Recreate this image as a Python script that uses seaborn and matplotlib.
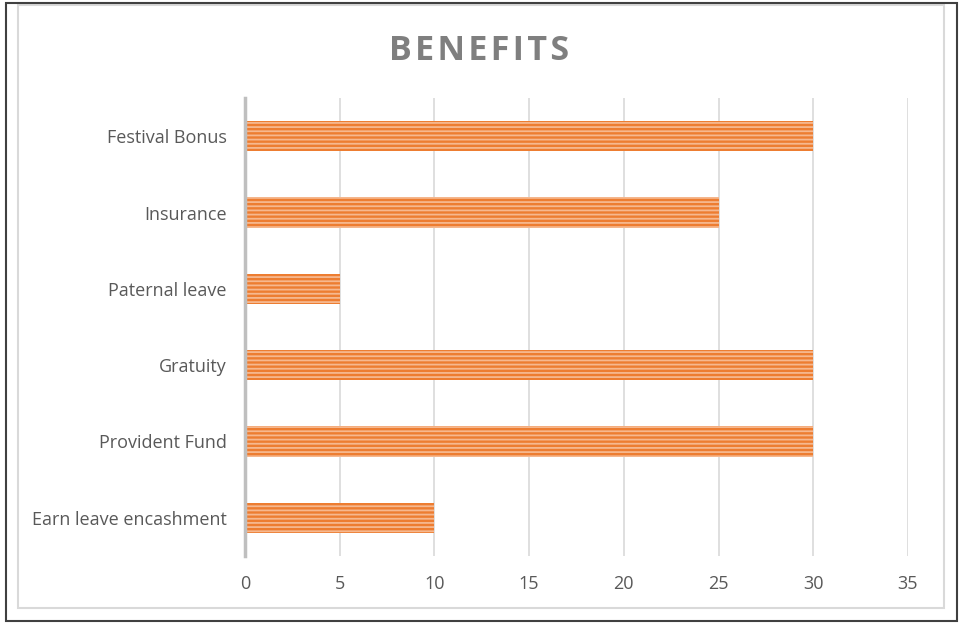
import matplotlib
matplotlib.use("Agg")
import matplotlib.pyplot as plt
import seaborn as sns
import pandas as pd
from matplotlib.patches import Rectangle

categories = ["Festival Bonus", "Insurance", "Paternal leave", "Gratuity",
              "Provident Fund", "Earn leave encashment"]
values = [30, 25, 5, 30, 30, 10]
x_ticks = [0, 5, 10, 15, 20, 25, 30, 35]

df = pd.DataFrame({"benefit": categories, "value": values})

sns.set_theme(style="white")
plt.rcParams['font.family'] = ['Open Sans', 'DejaVu Sans']
plt.rcParams['hatch.linewidth'] = 1.3

fig = plt.figure(figsize=(9.6, 6.23), dpi=100)
ax = fig.add_axes([245/960, 1-556/623, (908-245)/960, (556-98)/623])

sns.barplot(data=df, x="value", y="benefit", order=categories, ax=ax,
            color="#ED7D31", width=0.4, saturation=1, edgecolor="#F8CBAD",
            linewidth=0, hatch="----")
for p in ax.patches:
    p.set_hatch("----")
    p.set_edgecolor("#F6B88F")
    p.set_linewidth(0)

ax.set_xlim(0, 35)
ax.set_ylim(5.5, -0.5)
ax.set_xticks(x_ticks)
ax.set_xticklabels([str(t) for t in x_ticks])
ax.set_xlabel("")
ax.set_ylabel("")
ax.grid(axis="x", color="#D9D9D9", linewidth=1.2)
ax.set_axisbelow(True)
for s in ["top", "right", "bottom"]:
    ax.spines[s].set_visible(False)
ax.spines["left"].set_color("#BFBFBF")
ax.spines["left"].set_linewidth(2.5)
ax.spines["left"].set_zorder(5)
ax.tick_params(axis="both", length=0, labelsize=13, colors="#595959")
ax.tick_params(axis="x", pad=14)
ax.tick_params(axis="y", pad=13)

title = "\u200a".join("BENEFITS")
fig.text(479/960, 1-51/623, title, ha="center", va="center",
         fontsize=24.5, fontweight="bold", color="#7F7F7F")

fig.add_artist(Rectangle((18/960, 1-608/623), (944-18)/960, (608-5)/623,
                         transform=fig.transFigure, fill=False,
                         edgecolor="#D9D9D9", linewidth=1.5))
fig.add_artist(Rectangle((6/960, 1-621/623), (957-6)/960, (621-3)/623,
                         transform=fig.transFigure, fill=False,
                         edgecolor="#404040", linewidth=1.5))

fig.savefig("out.png", dpi=100)
